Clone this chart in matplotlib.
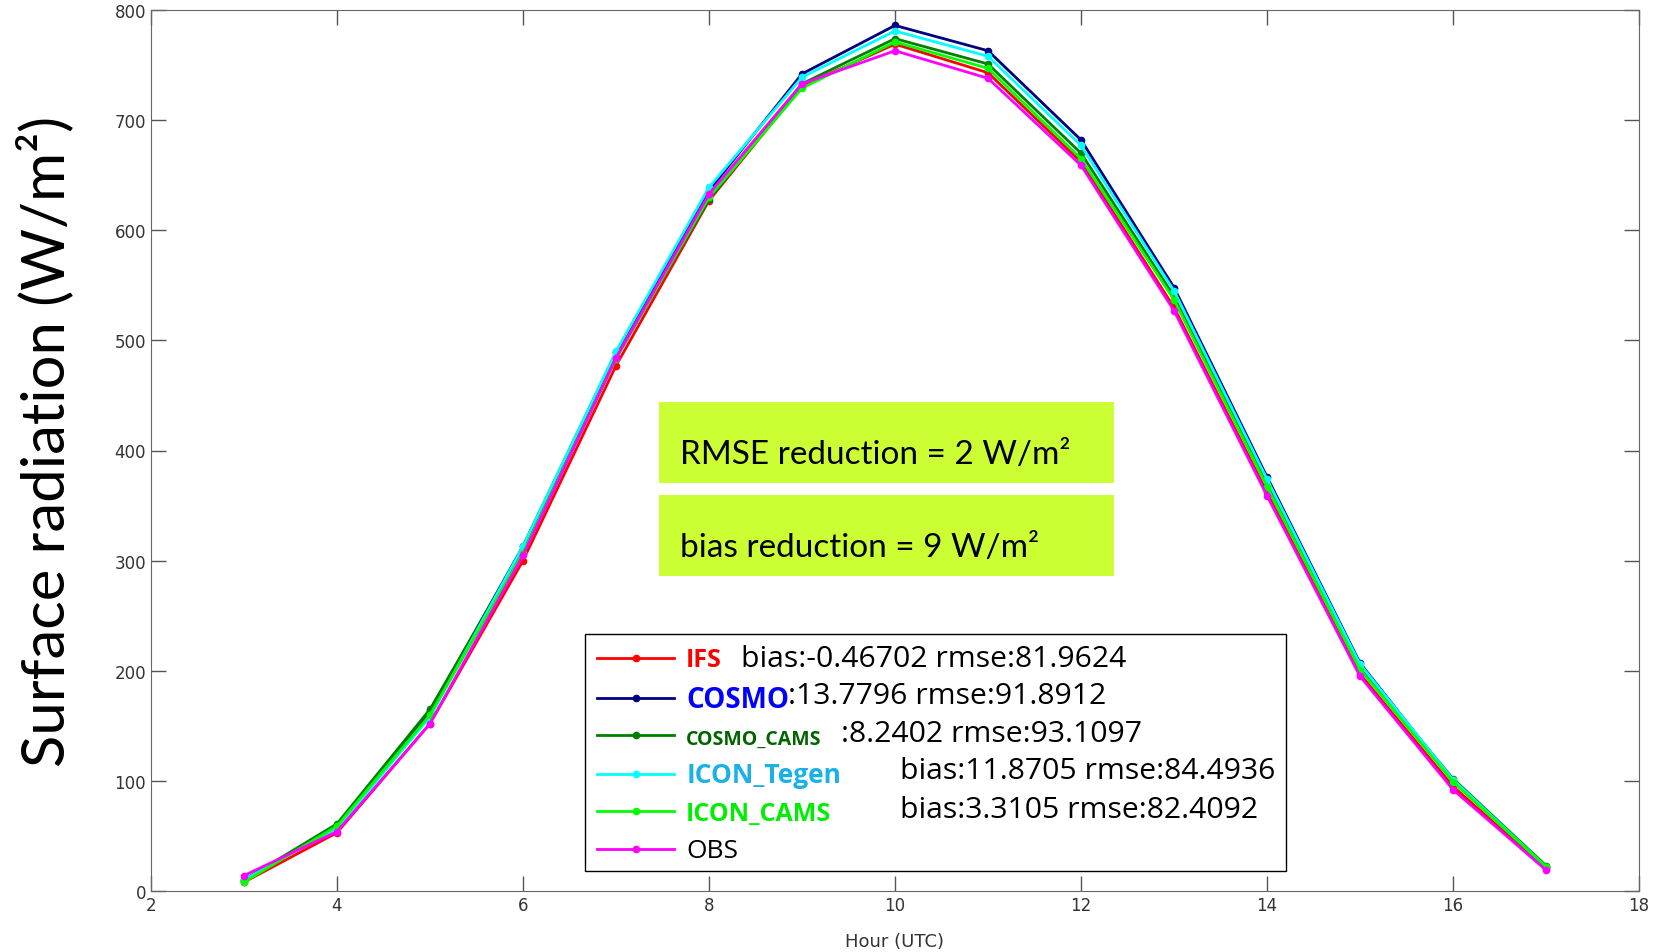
import numpy as np
import matplotlib
matplotlib.use('Agg')
import matplotlib.pyplot as plt
from matplotlib.patches import Rectangle

hours = [3, 4, 5, 6, 7, 8, 9, 10, 11, 12, 13, 14, 15, 16, 17]
ifs        = [8, 53, 152, 300, 477, 627, 731, 769, 743, 662, 530, 362, 197, 95, 20]
cosmo      = [10, 58, 163, 313, 489, 636, 742, 786, 763, 682, 548, 376, 207, 100, 22]
cosmo_cams = [10, 61, 165, 311, 485, 628, 733, 774, 751, 670, 540, 370, 203, 102, 23]
icon_tegen = [10, 57, 158, 313, 490, 639, 739, 781, 758, 677, 545, 374, 206, 101, 22]
icon_cams  = [8, 59, 160, 307, 483, 630, 729, 771, 747, 665, 537, 367, 201, 99, 22]
obs        = [14, 54, 152, 305, 484, 633, 733, 763, 738, 659, 527, 359, 195, 92, 19]

names = ['IFS', 'COSMO', 'COSMO_CAMS', 'ICON_Tegen', 'ICON_CAMS', 'OBS']
stats = ['bias:-0.46702 rmse:81.9624', ':13.7796 rmse:91.8912', ':8.2402 rmse:93.1097',
         'bias:11.8705 rmse:84.4936', 'bias:3.3105 rmse:82.4092', '']
series = [ifs, cosmo, cosmo_cams, icon_tegen, icon_cams, obs]
colors = ['#ff0000', '#000080', '#008000', '#00ffff', '#00ff00', '#ff00ff']
name_colors = ['#ff0000', '#0000ff', '#006400', '#1ab0e8', '#00ee00', '#000000']
name_weight = ['bold', 'bold', 'bold', 'bold', 'bold', 'normal']
name_size = [18, 20, 14, 19, 18, 19]

W, H = 1665, 953
fig = plt.figure(figsize=(W/100, H/100), dpi=100)
ax = fig.add_axes([151/W, 1-892/H, (1639-151)/W, (892-11)/H])

lines = []
for s, c in zip(series, colors):
  l, = ax.plot(hours, s, '-o', color=c, lw=2, ms=4.5)
  lines.append(l)

ax.set_xlim(2, 18)
ax.set_ylim(0, 800)
ax.set_xticks(range(2, 19, 2))
ax.set_yticks(range(0, 801, 100))
ax.tick_params(direction='in', length=11, width=1, top=True, right=True,
               labelsize=12, colors='#555555', labelcolor='#333333')
for sp in ax.spines.values():
  sp.set_color('#666666')
ax.set_xlabel('Hour (UTC)', fontsize=13, color='#333333', labelpad=13)

fig.text(45/W, 1-441/H, 'Surface radiation (W/m²)', rotation=90,
         fontsize=43, family='Lato', ha='center', va='center')

# green info boxes
for y0, txt in [(403, 'RMSE reduction = 2 W/m²'), (496, 'bias reduction = 9 W/m²')]:
  ax.add_patch(Rectangle((659/W, 1-(y0+81)/H), (1114-659)/W, 81/H,
                         transform=fig.transFigure, facecolor='#ccff33',
                         edgecolor='none', zorder=3))
  ax.text(680/W, 1-(y0+52)/H, txt, fontsize=24, family='Lato', va='center',
          transform=fig.transFigure, zorder=4)

# legend box
ax.add_patch(Rectangle((585/W, 1-872/H), (1286-585)/W, (872-635)/H,
                       transform=fig.transFigure, facecolor='white',
                       edgecolor='black', lw=1, zorder=3))
leg = ax.legend(lines, names, loc='upper left', bbox_to_anchor=(575/W, 1-626/H),
                bbox_transform=fig.transFigure, frameon=False,
                handlelength=3.05, handletextpad=0.5, labelspacing=0.5,
                prop={'family': 'Open Sans', 'size': 18})
leg.set_zorder(5)
for t, c, w, sz in zip(leg.get_texts(), name_colors, name_weight, name_size):
  t.set_color(c)
  t.set_fontweight(w)
  t.set_fontsize(sz)

rows = [660, 697, 735, 772, 810, 847]
starts = [741, 788, 841, 900, 900, 0]
for st, x, y in zip(stats, starts, rows):
  if st:
    ax.text(x/W, 1-y/H, st, fontsize=21.7, family='Open Sans', va='center',
            transform=fig.transFigure, zorder=6)

fig.savefig('out.png', dpi=100)
